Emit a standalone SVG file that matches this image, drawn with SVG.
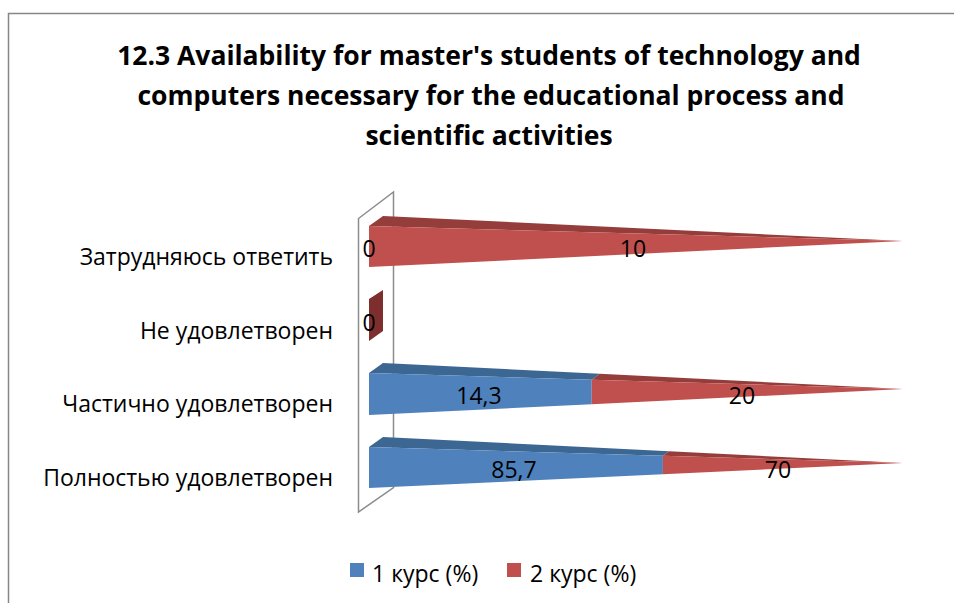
<svg xmlns="http://www.w3.org/2000/svg" width="954" height="603" viewBox="0 0 954 603">
<style>
.t{font-family:"Open Sans","Noto Sans","Liberation Sans",sans-serif;font-weight:bold;font-size:26.5px;fill:#000;text-anchor:middle}
.c{font-family:"Open Sans","Noto Sans","Liberation Sans",sans-serif;font-size:23px;fill:#000;text-anchor:end}
.v{font-family:"Open Sans","Noto Sans","Liberation Sans",sans-serif;font-size:23px;fill:#000;text-anchor:middle}
.l{font-family:"Open Sans","Noto Sans","Liberation Sans",sans-serif;font-size:23px;fill:#000}
.bf{fill:#4F81BD}.bt{fill:#3D6793}
.rf{fill:#C0504D}.rt{fill:#953D3B}
.z{fill:#7E2F2D}
</style>
<rect x="0" y="0" width="954" height="603" fill="#fff"/>
<rect x="8.5" y="13.5" width="980" height="620" fill="none" stroke="#868686" stroke-width="1.5"/>
<g id="title">
<text class="t" x="489" y="65">12.3 Availability for master's students of technology and</text>
<text class="t" x="491" y="105">computers necessary for the educational process and</text>
<text class="t" x="489" y="145">scientific activities</text>
</g>
<g id="wall">
<polygon points="358.5,218.5 393.5,192 393.5,487.5 358.5,512" fill="none" stroke="#8C8C8C" stroke-width="1.5"/>
</g>
<g id="categories">
<text class="c" x="333" y="265">Затрудняюсь ответить</text>
<text class="c" x="333" y="339">Не удовлетворен</text>
<text class="c" x="333" y="412">Частично удовлетворен</text>
<text class="c" x="333" y="486">Полностью удовлетворен</text>
</g>
<g id="bar-zatrudnyayus">
<polygon class="rt" points="369,226 383,216 903,241"/>
<polygon class="rf" points="369,226 903,241 369,267"/>
<text class="v" x="369" y="257">0</text>
<text class="v" x="633" y="257">10</text>
</g>
<g id="bar-ne-udovletvoren">
<polygon class="z" points="369,299 383,290 383,331 369,341"/>
<text class="v" x="369" y="331">0</text>
</g>
<g id="bar-chastichno">
<polygon class="bt" points="369,373 383,363 599.8,373.8 591.7,379.7"/>
<polygon class="bf" points="369,373 591.7,379.7 591.7,404.2 369,415"/>
<polygon class="rt" points="591.7,379.7 599.8,373.8 903,389"/>
<polygon class="rf" points="591.7,379.7 903,389 591.7,404.2"/>
<text class="v" x="479" y="404">14,3</text>
<text class="v" x="742" y="404">20</text>
</g>
<g id="bar-polnostyu">
<polygon class="bt" points="369,447 383,437 669.2,451.3 662.9,455.8"/>
<polygon class="bf" points="369,447 662.9,455.8 662.9,474.2 369,488"/>
<polygon class="rt" points="662.9,455.8 669.2,451.3 903,463"/>
<polygon class="rf" points="662.9,455.8 903,463 662.9,474.2"/>
<text class="v" x="514" y="478">85,7</text>
<text class="v" x="778" y="478">70</text>
</g>
<g id="legend">
<rect x="350" y="563" width="14" height="14" class="bf"/>
<text class="l" x="372" y="582">1 курс (%)</text>
<rect x="507" y="563" width="14" height="14" class="rf"/>
<text class="l" x="530" y="582">2 курс (%)</text>
</g>
</svg>
